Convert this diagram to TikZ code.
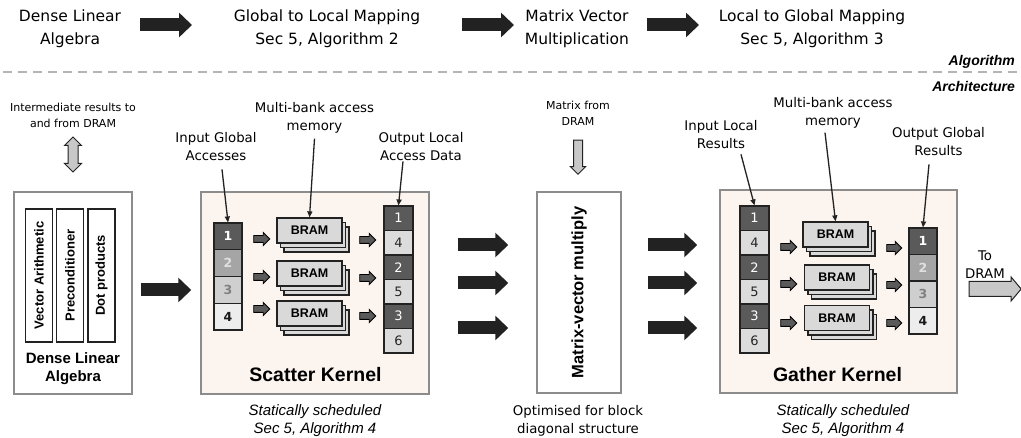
\documentclass[tikz,border=0pt]{standalone}
\usepackage{fontspec}
\setmainfont{DejaVu Sans}
\newfontfamily\arialf{Liberation Sans}
\usetikzlibrary{arrows.meta,shapes.arrows,calc}
\definecolor{kernelbg}{HTML}{FCF4EF}
\definecolor{frame}{HTML}{8C8C8C}
\definecolor{cdark}{HTML}{5A5A5A}
\definecolor{cmid}{HTML}{A5A5A5}
\definecolor{clight}{HTML}{CFCFCF}
\definecolor{cpale}{HTML}{EDEDED}
\definecolor{cloc}{HTML}{DCDCDC}
\definecolor{bramfill}{HTML}{D9D9D9}
\definecolor{arrowgray}{HTML}{C8C8C8}
\definecolor{dashgray}{HTML}{B4B4B4}
\definecolor{inkblack}{HTML}{222222}

\begin{document}
\begin{tikzpicture}[x=1pt,y=-1pt,
  toptxt/.style={align=center, inner sep=0pt, font=\fontsize{15.5}{23}\selectfont},
  lbl/.style={align=center, inner sep=0pt, font=\fontsize{13.3}{18}\selectfont},
  smalltxt/.style={align=center, inner sep=0pt, font=\fontsize{11}{16}\selectfont},
  note/.style={align=center, inner sep=0pt, font=\arialf\itshape\fontsize{15}{18}\selectfont},
  ktitle/.style={inner sep=0pt, font=\arialf\bfseries\fontsize{19.5}{22}\selectfont},
  layer/.style={inner sep=0pt, anchor=east, font=\arialf\bfseries\itshape\fontsize{14}{16}\selectfont},
  panel/.style={draw=frame, line width=1.5pt, inner sep=0pt},
  vbox/.style={draw=inkblack, line width=1.4pt, fill=white, inner sep=0pt},
  vtext/.style={rotate=90, inner sep=0pt, font=\arialf\bfseries\fontsize{13}{14}\selectfont},
  cell/.style={draw=inkblack, line width=1.1pt, inner sep=0pt},
  cA/.style={cell, fill=cdark, text=white},
  cB/.style={cell, fill=cmid, text=black!12},
  cC/.style={cell, fill=clight, text=black!50},
  cD/.style={cell, fill=cpale, text=black!90},
  cL/.style={cell, fill=cloc, text=black!85},
  glob/.style={minimum width=28pt, minimum height=26.75pt, font=\bfseries\fontsize{12.5}{14}\selectfont},
  loc/.style={minimum width=29pt, minimum height=24.5pt, font=\fontsize{13}{14}\selectfont},
  bram/.style={draw=inkblack, line width=1.3pt, fill=bramfill, minimum width=65pt, minimum height=25pt, inner sep=0pt, font=\arialf\bfseries\fontsize{12.5}{14}\selectfont},
  sarrow/.style={single arrow, draw=black, fill=cdark, line width=0.9pt, inner xsep=0pt, inner ysep=3pt,
    minimum height=16pt, single arrow head extend=3pt, single arrow head indent=0pt},
  garrow/.style={single arrow, draw=inkblack, fill=arrowgray, line width=1pt, inner xsep=0pt, single arrow head indent=0pt},
  fat/.style={draw=inkblack, line width=13pt, -{Triangle[length=13pt,width=24pt]}},
  ptr/.style={draw=inkblack, line width=1.3pt, -{Triangle[length=6pt,width=5pt]}}
]
\useasboundingbox (0,0) rectangle (1021,438);

% ---------------- algorithm row ----------------
\node[toptxt] (t1) at (70,29) {Dense Linear\\Algebra};
\node[toptxt] (t2) at (327,29) {Global to Local Mapping\\Sec 5, Algorithm 2};
\node[toptxt] (t3) at (577,29) {Matrix Vector\\Multiplication};
\node[toptxt] (t4) at (812,29) {Local to Global Mapping\\Sec 5, Algorithm 3};
\coordinate (a1s) at (140,25); \coordinate (a1e) at (192,25);
\coordinate (a2s) at (462,25); \coordinate (a2e) at (514,25);
\coordinate (a3s) at (647,25); \coordinate (a3e) at (699,25);
\draw[fat] (a1s) -- (a1e);
\draw[fat] (a2s) -- (a2e);
\draw[fat] (a3s) -- (a3e);

\node[layer] (alg) at (1015,62) {Algorithm};
\node[layer] (arch) at (1015,86) {Architecture};
\coordinate (dl1) at (3,72); \coordinate (dl2) at (1018,72);
\draw[dashgray, line width=2pt, dash pattern=on 9pt off 6pt] (dl1) -- (dl2);

% ---------------- dense linear algebra ----------------
\node[smalltxt] (imd) at (73,115) {Intermediate results to\\and from DRAM};
\node[double arrow, draw=inkblack, fill=arrowgray, line width=1pt, inner xsep=0pt, inner ysep=4.5pt,
  minimum height=35pt, double arrow head extend=3.5pt,
  double arrow head indent=0pt, rotate=90] (dram1) at (73,154.5) {};

\node[panel, fill=white, minimum width=118pt, minimum height=202pt] (dla) at (73,293) {};
\node[vbox, minimum width=27pt, minimum height=133pt] (va) at (39,275.5) {};
\node[vbox, minimum width=27pt, minimum height=133pt] (vp) at (70,275.5) {};
\node[vbox, minimum width=27pt, minimum height=133pt] (vd) at (101.5,275.5) {};
\node[vtext] (vat) at (va) {Vector Arithmetic};
\node[vtext] (vpt) at (vp) {Preconditioner};
\node[vtext] (vdt) at (vd) {Dot products};
\node[align=center, inner sep=0pt, font=\arialf\bfseries\fontsize{15}{18}\selectfont] (dlat) at (73,369) {Dense Linear\\Algebra};

% ---------------- kernel panels ----------------
\node[panel, fill=kernelbg, minimum width=228pt, minimum height=202pt] (sk) at (315,293) {};
\node[panel, fill=kernelbg, minimum width=237pt, minimum height=203pt] (gk) at (838.5,291.5) {};

% ---------------- scatter kernel ----------------
\node[ktitle] (skt) at (315.5,375) {Scatter Kernel};
\node[note] (skn) at (315,421) {Statically scheduled\\Sec 5, Algorithm 4};

\node[lbl] (lig) at (216,147) {Input Global\\Accesses};
\node[lbl] (mb1) at (314.5,118) {Multi-bank access\\memory};
\node[lbl] (lol) at (421,147) {Output Local\\Access Data};

\foreach \v/\s [count=\i] in {1/cA,2/cB,3/cC,4/cD}
  \node[\s, glob] (si\i) at (228,{223+26.75*(\i-0.5)}) {\v};
\foreach \v/\s [count=\i] in {1/cA,4/cL,2/cA,5/cL,3/cA,6/cL}
  \node[\s, loc] (so\i) at (398.5,{206+24.5*(\i-0.5)}) {\v};

% stacked memory banks (three layers each)
\foreach \nm/\px/\py in {sb1/309.5/230.5, sb2/309.5/273.5, sb3/309.5/313.5,
                         gb1/835.5/234.5, gb2/837/277.5, gb3/837/318} {
  \node[bram] (\nm-c) at (\px+7,\py+9) {};
  \node[bram] (\nm-b) at (\px+3.5,\py+4.5) {};
  \node[bram] (\nm) at (\px,\py) {BRAM};
}

\node[sarrow] (sl1) at (260,239) {};
\node[sarrow] (sl2) at (260,277) {};
\node[sarrow] (sl3) at (260,309) {};
\node[sarrow] (sr1) at (366,240) {};
\node[sarrow] (sr2) at (366,278) {};
\node[sarrow] (sr3) at (366,316) {};

\draw[ptr] ($(lig.south)+(6,8)$) -- (si1.north);
\draw[ptr] ($(mb1.south)+(0,5)$) -- (sb1.north);
\draw[ptr] ($(lol.south)+(-18,0)$) -- (so1.north);

% ---------------- matrix-vector multiply ----------------
\node[smalltxt] (mfd) at (578,113) {Matrix from\\DRAM};
\node[garrow, minimum height=34pt, inner ysep=4pt, single arrow head extend=3pt, rotate=-90] (dram2) at (578,155) {};
\node[panel, fill=white, minimum width=84pt, minimum height=201pt] (mv) at (579,292.5) {};
\node[rotate=90, inner sep=0pt, font=\arialf\bfseries\fontsize{16.5}{18}\selectfont] (mvt) at (mv) {Matrix-vector multiply};
\node[lbl] (opt) at (578,421) {Optimised for block\\diagonal structure};

% ---------------- gather kernel ----------------
\node[ktitle] (gkt) at (837.5,375) {Gather Kernel};
\node[note] (gkn) at (843,421) {Statically scheduled\\Sec 5, Algorithm 4};

\node[lbl] (lil) at (721,135) {Input Local\\Results};
\node[lbl] (mb2) at (833,113) {Multi-bank access\\memory};
\node[lbl] (logr) at (938.5,142) {Output Global\\Results};

\foreach \v/\s [count=\i] in {1/cA,4/cL,2/cA,5/cL,3/cA,6/cL}
  \node[\s, loc] (gi\i) at (754.5,{206+24.5*(\i-0.5)}) {\v};
\foreach \v/\s [count=\i] in {1/cA,2/cB,3/cC,4/cD}
  \node[\s, glob, minimum height=26.5pt] (go\i) at (923,{228+26.5*(\i-0.5)}) {\v};

\node[sarrow] (gl1) at (787,247) {};
\node[sarrow] (gl2) at (787,284) {};
\node[sarrow] (gl3) at (787,323) {};
\node[sarrow, minimum height=15pt] (gr1) at (892.5,248) {};
\node[sarrow, minimum height=15pt] (gr2) at (892.5,285) {};
\node[sarrow, minimum height=15pt] (gr3) at (892.5,323) {};

\draw[ptr] ($(lil.south)+(20,5)$) -- (gi1.north);
\draw[ptr] ($(mb2.south)+(-8,4)$) -- (gb1.north);
\draw[ptr] ($(logr.south)+(-9.5,8)$) -- (go1.north);

\node[lbl] (todram) at (985,265) {To\\DRAM};
\node[garrow, minimum height=52pt, inner ysep=7pt, single arrow head extend=4.5pt, single arrow tip angle=100] (dram3) at (992,289) {};

% ---------------- data flow between stages ----------------
\coordinate (r0) at (0,290);
\coordinate (r1) at (0,245);
\coordinate (r2) at (0,283);
\coordinate (r3) at (0,328);
\draw[fat, shorten <=8pt, shorten >=9pt] (dla.east |- r0) -- (sk.west |- r0);
\foreach \r in {r1,r2,r3} {
  \draw[fat, shorten <=28pt, shorten >=28pt] (sk.east |- \r) -- (mv.west |- \r);
  \draw[fat, shorten <=26pt, shorten >=22pt] (mv.east |- \r) -- (gk.west |- \r);
}
\end{tikzpicture}
\end{document}
